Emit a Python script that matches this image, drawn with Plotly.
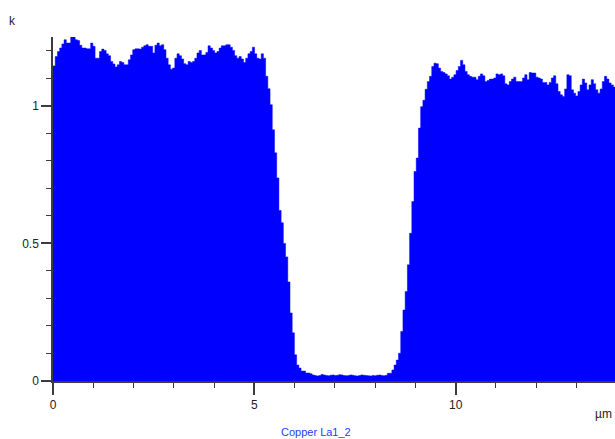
import numpy as np
import plotly.graph_objects as go

# ---- data -------------------------------------------------------------
BIN_WIDTH_UM = 0.055          # spacing of the profile samples (µm)

k_values = [
    1.145, 1.179, 1.197, 1.210, 1.225, 1.240, 1.228, 1.228, 1.255, 1.255,
    1.240, 1.237, 1.220, 1.210, 1.210, 1.207, 1.207, 1.228, 1.216, 1.173,
    1.173, 1.197, 1.206, 1.201, 1.189, 1.182, 1.161, 1.152, 1.141, 1.149,
    1.161, 1.157, 1.149, 1.149, 1.167, 1.185, 1.204, 1.207, 1.207, 1.206,
    1.213, 1.218, 1.222, 1.216, 1.216, 1.192, 1.220, 1.228, 1.218, 1.222,
    1.204, 1.173, 1.149, 1.133, 1.137, 1.173, 1.189, 1.182, 1.170, 1.153,
    1.149, 1.161, 1.157, 1.161, 1.173, 1.192, 1.201, 1.185, 1.185, 1.194,
    1.218, 1.210, 1.201, 1.192, 1.197, 1.210, 1.218, 1.218, 1.222, 1.222,
    1.213, 1.201, 1.182, 1.173, 1.179, 1.170, 1.157, 1.173, 1.189, 1.197,
    1.213, 1.189, 1.173, 1.170, 1.189, 1.173, 1.107, 1.062, 1.004, 0.913,
    0.829, 0.738, 0.620, 0.575, 0.500, 0.451, 0.360, 0.247, 0.175, 0.095,
    0.058, 0.047, 0.036, 0.036, 0.029, 0.029, 0.026,
    0.022, 0.020, 0.018, 0.020, 0.024, 0.022, 0.020, 0.019, 0.021, 0.022,
    0.020, 0.021, 0.023, 0.022, 0.020, 0.019, 0.020, 0.022, 0.021, 0.019,
    0.018, 0.020, 0.022, 0.021, 0.020, 0.019, 0.018, 0.020, 0.019, 0.021,
    0.022, 0.020, 0.019, 0.021,
    0.028, 0.028, 0.040, 0.058, 0.076, 0.101, 0.180, 0.258, 0.325, 0.422,
    0.537, 0.652, 0.761, 0.810, 0.919, 0.997, 1.020, 1.060, 1.088, 1.107,
    1.143, 1.155, 1.153, 1.137, 1.125, 1.121, 1.116, 1.109, 1.097, 1.104,
    1.113, 1.128, 1.143, 1.165, 1.149, 1.125, 1.113, 1.107, 1.104, 1.104,
    1.095, 1.107, 1.116, 1.109, 1.088, 1.092, 1.097, 1.097, 1.101, 1.116,
    1.113, 1.116, 1.109, 1.080, 1.076, 1.088, 1.097, 1.104, 1.088, 1.088,
    1.088, 1.101, 1.113, 1.095, 1.121, 1.119, 1.119, 1.104, 1.101, 1.097,
    1.085, 1.085, 1.076, 1.085, 1.101, 1.109, 1.080, 1.052, 1.040, 1.034,
    1.061, 1.113, 1.109, 1.058, 1.046, 1.036, 1.052, 1.076, 1.097, 1.083,
    1.058, 1.076, 1.095, 1.080, 1.058, 1.046, 1.061, 1.088, 1.107, 1.097,
    1.083, 1.076, 1.068, 1.070,
]

x_tick_vals = [0, 5, 10]
x_tick_text = ["0", "5", "10"]
y_tick_vals = [0, 0.5, 1]
y_tick_text = ["0", "0.5", "1"]
series_name = "Copper La1_2"
x_unit = "µm"
y_unit = "k"

# ---- figure -----------------------------------------------------------
x_edges = np.arange(len(k_values) + 1) * BIN_WIDTH_UM
y_steps = k_values + [k_values[-1]]

BLUE = "#0000FF"
AXIS = "#3c3c3c"
FONT = "Liberation Sans, Arial, sans-serif"

fig = go.Figure()
fig.add_trace(go.Scatter(
    x=x_edges, y=y_steps,
    mode="lines", line=dict(shape="hv", color=BLUE, width=0.5),
    fill="tozeroy", fillcolor=BLUE, name=series_name, hoverinfo="skip",
))

W, H = 615, 439
ML, MT, MB, MR = 53, 37, 58, 0
plot_w = W - ML - MR
plot_h = H - MT - MB
px_per_um = 40.27
x_max = plot_w / px_per_um

fig.update_layout(
    width=W, height=H,
    margin=dict(l=ML, r=MR, t=MT, b=MB, pad=0),
    paper_bgcolor="white", plot_bgcolor="white",
    showlegend=False,
    font=dict(family=FONT, size=12, color="#222222"),
)
fig.update_xaxes(
    range=[0, x_max], showgrid=False, zeroline=False,
    showline=True, linecolor=AXIS, linewidth=1.5,
    tickmode="array", tickvals=x_tick_vals, ticktext=x_tick_text,
    ticks="outside", ticklen=12, tickwidth=1.5, tickcolor=AXIS,
    minor=dict(ticks="outside", ticklen=5, tickwidth=1.2, tickcolor=AXIS,
               dtick=1, tick0=0, showgrid=False),
    tickfont=dict(size=12, color="#222222"),
)
fig.update_yaxes(
    range=[0, 1.25], showgrid=False, zeroline=False,
    showline=True, linecolor=AXIS, linewidth=1.5,
    tickmode="array", tickvals=y_tick_vals, ticktext=y_tick_text,
    ticks="outside", ticklen=10, tickwidth=1.5, tickcolor=AXIS,
    minor=dict(ticks="outside", ticklen=5, tickwidth=1.2, tickcolor=AXIS,
               dtick=0.1, tick0=0, showgrid=False),
    tickfont=dict(size=12, color="#222222"),
)

# unit label "k" above the y axis (top-left corner)
fig.add_annotation(text=y_unit, xref="paper", yref="paper",
                   x=(13 - ML) / plot_w, y=(H - MB - 21) / plot_h,
                   showarrow=False, xanchor="center", yanchor="middle",
                   font=dict(size=12, color="#222222"))
# unit label "µm" at the right end of the x axis
fig.add_annotation(text=x_unit, xref="paper", yref="paper",
                   x=(614 - ML) / plot_w, y=-(414 - (H - MB)) / plot_h,
                   showarrow=False, xanchor="right", yanchor="middle",
                   font=dict(size=12, color="#222222"))
# series caption below the axis
fig.add_annotation(text=series_name, xref="paper", yref="paper",
                   x=(316 - ML) / plot_w, y=-(432 - (H - MB)) / plot_h,
                   showarrow=False, xanchor="center", yanchor="middle",
                   font=dict(size=11, color="#1a3cff"))

fig.write_html("out.html")
